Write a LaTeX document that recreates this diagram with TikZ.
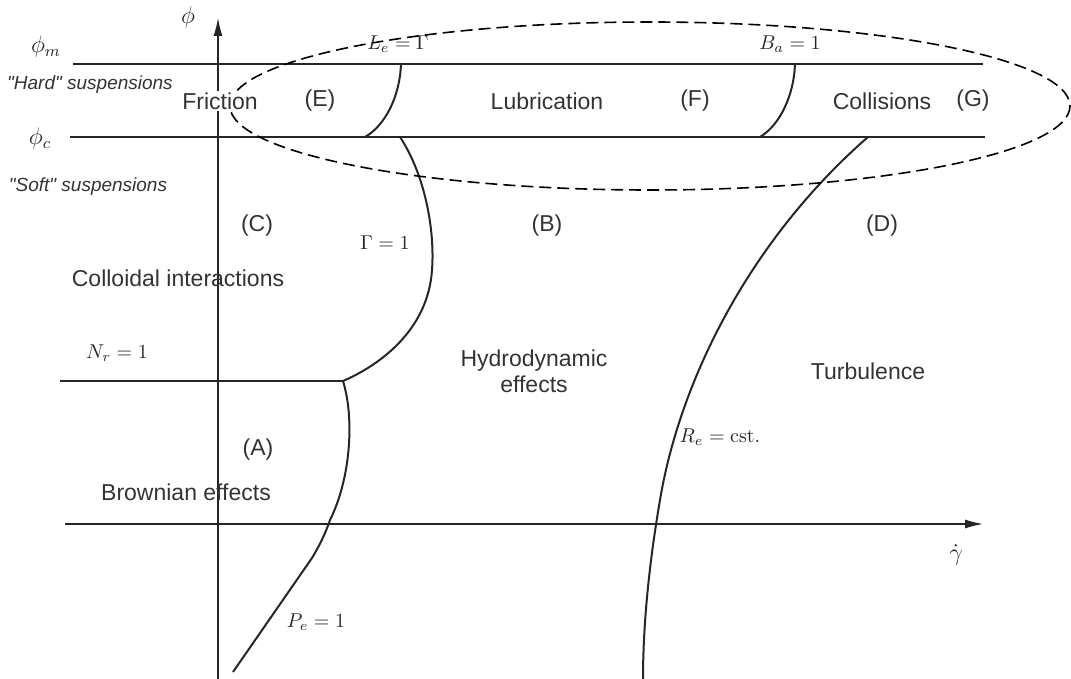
\documentclass[tikz,border=0pt]{standalone}
\usepackage{amsmath,amssymb}
\usepackage{fontspec}
\setsansfont{Liberation Sans}
\usepackage{tikz}
\usetikzlibrary{arrows.meta}
\tikzset{
  regime/.style={font=\sffamily\fontsize{11.5}{13}\selectfont, text=black!80, inner sep=1pt},
  susp/.style={font=\sffamily\itshape\fontsize{9.5}{11}\selectfont, text=black!80, inner sep=1pt},
  crit/.style={inner sep=1pt, text=black!85},
  frac/.style={inner sep=1pt, text=black!85, font=\large},
  bound/.style={line width=1pt, black!85},
  level/.style={line width=1.3pt, black!85},
  axis/.style={line width=0.6pt, black!85, -{Latex[length=9pt,width=4.5pt]}}
}

\begin{document}
\begin{tikzpicture}[x=0.5pt,y=-0.5pt]
  \useasboundingbox (0,0) rectangle (1071,679);
  % Junction points of the boundaries
  \coordinate (LeTop) at (401,64);
  \coordinate (LeBot) at (365,137);
  \coordinate (BaTop) at (795,64);
  \coordinate (BaBot) at (760,137);
  \coordinate (GaTop) at (400,137);
  \coordinate (NrEnd) at (343,381);
  \coordinate (ReTop) at (868,137);

  % Axes
  \draw[axis] (218,679) -- (218,18);
  \draw[axis] (65,524) -- (983,524);
  \node[frac] (phi) at (188,18) {$\phi$};
  \node[frac] (gdot) at (956,555) {$\dot{\gamma}$};

  % Packing fractions
  \draw[level] (73,64) -- (983,64);
  \draw[level] (70,137) -- (985,137);
  \draw[line width=0.9pt, black!85] (60,381) -- (NrEnd);
  \node[frac] (phim) at (46,47) {$\phi_m$};
  \node[frac] (phic) at (40,139) {$\phi_c$};
  \node[susp] (hard) at (90,85) {\textquotedbl Hard\textquotedbl\ suspensions};
  \node[susp] (soft) at (88,187) {\textquotedbl Soft\textquotedbl\ suspensions};

  % Boundaries between regimes
  \draw[bound] (LeTop) .. controls (400,95) and (386,125) .. (LeBot);
  \draw[bound] (BaTop) .. controls (794,95) and (780,125) .. (BaBot);
  \draw[bound] (GaTop) .. controls (425,175) and (435,230) .. (432,270)
    .. controls (428,330) and (380,365) .. (NrEnd);
  \draw[bound] (NrEnd) .. controls (355,420) and (350,480) .. (330,520)
    .. controls (325,535) and (318,548) .. (312,558) -- (233,672);
  \draw[bound] (ReTop) .. controls (750,240) and (680,380) .. (660,500)
    .. controls (648,570) and (643,630) .. (643,679);

  % Dashed zone of concentrated suspensions
  \draw[dashed, dash pattern=on 6pt off 3pt, line width=0.8pt] (650,106) ellipse [x radius=420, y radius=84];

  % Criteria
  \node[crit] (Le) at (398,44) {$L_e=\Gamma$};
  \node[crit] (Ba) at (790,44) {$B_a=1$};
  \node[crit] (Ga) at (385,243) {$\Gamma=1$};
  \node[crit] (Nr) at (117,353) {$N_r=1$};
  \node[crit] (Pe) at (316,622) {$P_e=1$};
  \node[crit] (Re) at (720,437) {$R_e=\mathrm{cst.}$};

  % Regimes
  \node[regime, fill=white] (fric) at (220,101) {Friction};
  \node[regime] (E) at (320,101) {(E)};
  \node[regime] (lub) at (547,101) {Lubrication};
  \node[regime] (F) at (695,101) {(F)};
  \node[regime] (coll) at (882,101) {Collisions};
  \node[regime] (G) at (973,101) {(G)};
  \node[regime] (C) at (257,226) {(C)};
  \node[regime] (B) at (547,226) {(B)};
  \node[regime] (D) at (882,226) {(D)};
  \node[regime] (colloid) at (178,278) {Colloidal interactions};
  \node[regime, align=center] (hyd) at (534,371) {Hydrodynamic\\effects};
  \node[regime] (turb) at (868,371) {Turbulence};
  \node[regime] (A) at (258,450) {(A)};
  \node[regime] (brown) at (186,492) {Brownian effects};

\end{tikzpicture}
\end{document}
